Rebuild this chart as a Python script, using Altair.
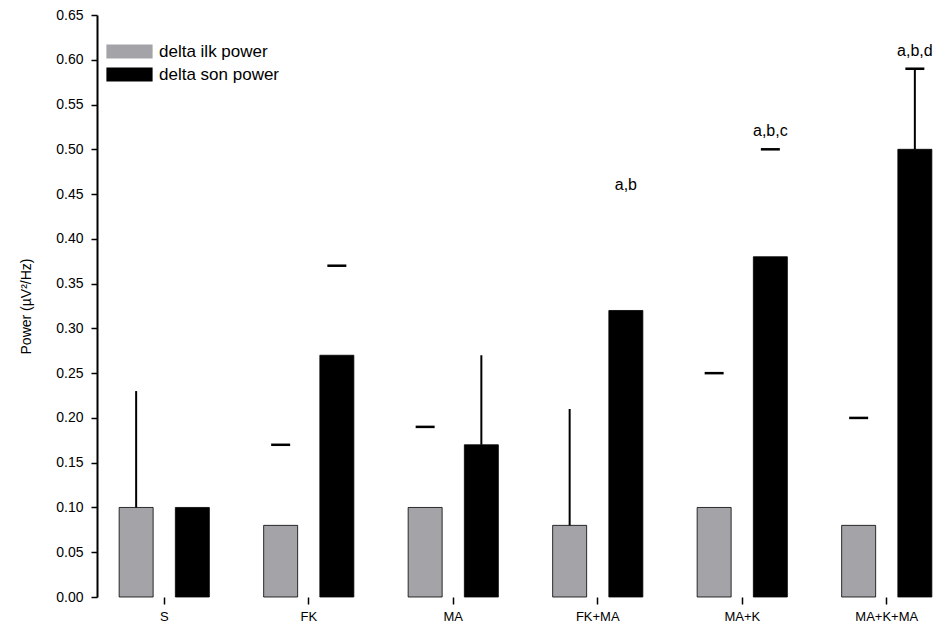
import altair as alt
import pandas as pd

categories = ["S", "FK", "MA", "FK+MA", "MA+K", "MA+K+MA"]
series_names = ["delta ilk power", "delta son power"]
ilk_values = [0.10, 0.08, 0.10, 0.08, 0.10, 0.08]
son_values = [0.10, 0.27, 0.17, 0.32, 0.38, 0.50]
ilk_upper = [0.23, 0.17, 0.19, 0.21, 0.25, 0.20]
son_upper = [None, 0.37, 0.27, None, 0.50, 0.59]
ilk_line_shown = [True, False, False, True, False, False]
ilk_cap_shown = [False, True, True, False, True, True]
son_line_shown = [False, False, True, False, False, True]
son_cap_shown = [False, True, False, False, True, True]
sig_labels = ["", "", "", "a,b", "a,b,c", "a,b,d"]
sig_heights = [None, None, None, 0.46, 0.52, 0.61]
y_ticks = [round(0.05 * i, 2) for i in range(14)]

rows = []
for i, c in enumerate(categories):
    rows.append(dict(cat=c, series=series_names[0], value=ilk_values[i], upper=ilk_upper[i],
                     line=ilk_line_shown[i], cap=ilk_cap_shown[i], sig="", sig_y=None))
    rows.append(dict(cat=c, series=series_names[1], value=son_values[i], upper=son_upper[i],
                     line=son_line_shown[i], cap=son_cap_shown[i], sig=sig_labels[i], sig_y=sig_heights[i]))
df = pd.DataFrame(rows)

FONT = "Liberation Sans"

x_enc = alt.X("cat:N", sort=categories,
              scale=alt.Scale(range=[-5, 862], paddingInner=0, paddingOuter=0),
              axis=alt.Axis(title=None, domain=False, ticks=True, tickSize=7, tickWidth=1.5,
                            tickColor="black", labelAngle=0, labelFont=FONT, labelFontSize=13,
                            labelColor="black", labelPadding=6))
xoff = alt.XOffset("series:N", sort=series_names,
                   scale=alt.Scale(domain=series_names, paddingInner=0.393, paddingOuter=0.482))
y_scale = alt.Scale(domain=[0, 0.65], nice=False, zero=True)
color = alt.Color("series:N", sort=series_names,
                  scale=alt.Scale(domain=series_names, range=["#a3a3a8", "#000000"]),
                  legend=alt.Legend(title=None, orient="none", legendX=24, legendY=28,
                                    symbolType="M-3.3,-1H3.3V1H-3.3Z", symbolSize=196,
                                    symbolStrokeWidth=0, labelFont=FONT, labelFontSize=17,
                                    labelColor="black", labelOffset=21, rowPadding=5))

base = alt.Chart(df)

bars = base.mark_bar(size=34, stroke="black", strokeWidth=0.8).encode(
    x=x_enc,
    xOffset=xoff,
    y=alt.Y("value:Q", scale=y_scale,
            axis=alt.Axis(title="Power (µV²/Hz)", values=y_ticks, format=".2f",
                          grid=False, domainColor="black", domainWidth=2, tickColor="black",
                          tickWidth=1.5, tickSize=6, labelFont=FONT, labelFontSize=14,
                          labelColor="black", labelPadding=8, titleFont=FONT,
                          titleFontSize=14, titleFontWeight="normal", titleColor="black",
                          titlePadding=22)),
    color=color,
)

lines = base.transform_filter("datum.line").mark_rule(color="black", strokeWidth=2).encode(
    x=alt.X("cat:N", sort=categories), xOffset=xoff,
    y=alt.Y("value:Q", scale=y_scale), y2="upper:Q",
)

caps = base.transform_filter("datum.cap").mark_tick(color="black", size=19, thickness=2.5,
                                                     opacity=1).encode(
    x=alt.X("cat:N", sort=categories), xOffset=xoff,
    y=alt.Y("upper:Q", scale=y_scale),
)

sig = base.transform_filter("datum.sig != ''").mark_text(
    font=FONT, fontSize=16, color="black", baseline="middle", align="center"
).encode(
    x=alt.X("cat:N", sort=categories), xOffset=xoff,
    y=alt.Y("sig_y:Q", scale=y_scale), text="sig:N",
)

chart = alt.layer(bars, lines, caps, sig).properties(
    width=849, height=582,
    autosize=alt.AutoSizeParams(type="none"),
    padding={"left": 97, "top": 15, "right": 0, "bottom": 31},
).configure_view(stroke=None)

chart.save("out.html", embed_options={"renderer": "svg", "actions": False})
